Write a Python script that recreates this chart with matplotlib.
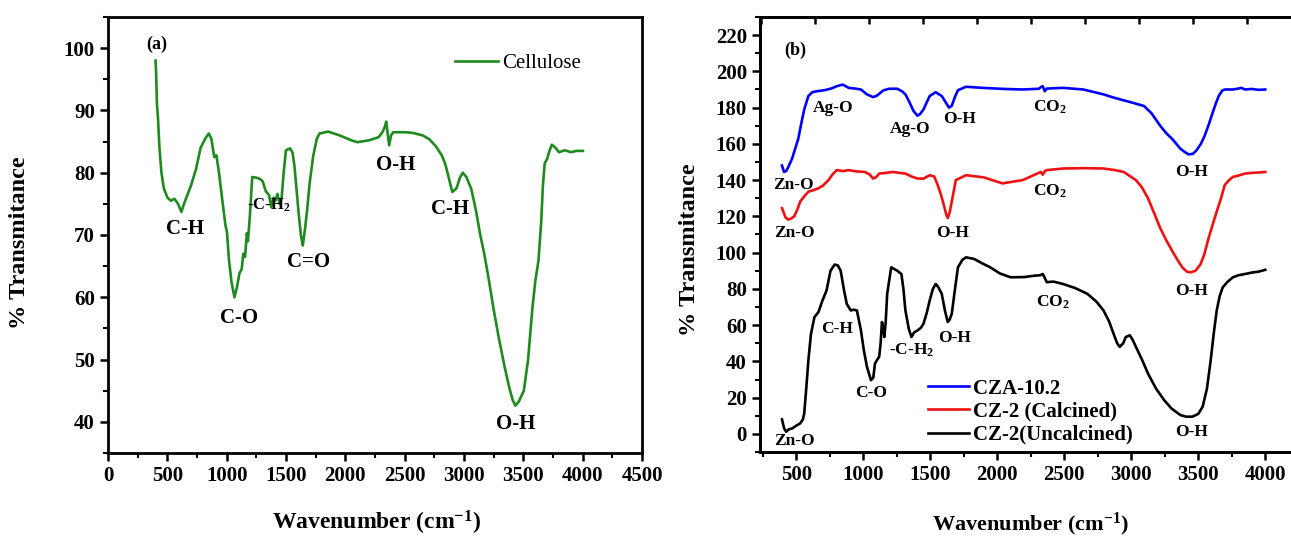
import numpy as np
import matplotlib
matplotlib.use("Agg")
import matplotlib.pyplot as plt
from matplotlib.ticker import MultipleLocator

plt.rcParams['font.family'] = ['Liberation Serif', 'DejaVu Serif']
plt.rcParams['font.weight'] = 'bold'
plt.rcParams['mathtext.fontset'] = 'custom'
plt.rcParams['mathtext.bf'] = 'Liberation Serif:bold'
plt.rcParams['mathtext.rm'] = 'Liberation Serif:bold'
plt.rcParams['mathtext.default'] = 'bf'

# (a) Cellulose
cell_wn = [400, 405, 412, 420, 433, 450, 470, 500, 530, 560, 590, 618, 640, 670, 700, 740, 780, 820, 849, 870,
           895, 913, 935, 960, 990, 1002, 1019, 1040, 1065, 1085, 1108, 1126, 1140, 1155, 1170, 1179, 1195, 1215,
           1250, 1280, 1303, 1330, 1357, 1375, 1395, 1410, 1428, 1445, 1463, 1480, 1499, 1534, 1555, 1570, 1590,
           1605, 1625, 1641, 1660, 1676, 1700, 1730, 1760, 1783, 1854, 1950, 2050, 2102, 2200, 2280, 2315, 2335,
           2344, 2355, 2369, 2385, 2404, 2500, 2564, 2650, 2706, 2760, 2812, 2840, 2866, 2901, 2937, 2965, 2990,
           3020, 3061, 3100, 3132, 3170, 3203, 3250, 3291, 3340, 3380, 3410, 3433, 3460, 3504, 3540, 3575, 3600,
           3628, 3650, 3665, 3680, 3700, 3720, 3740, 3771, 3800, 3850, 3900, 3950, 4002]
cell_t = [98, 96, 91, 89, 84, 80, 77.5, 76, 75.5, 75.8, 75, 73.7, 75, 76.5, 78, 80.5, 84, 85.5, 86.3, 85.5,
          82.5, 82.8, 80, 76, 71.5, 70.5, 66, 62.5, 60, 61.5, 63.9, 64.5, 67, 66.5, 70.3, 69, 73, 79.3,
          79.2, 79, 78.6, 77, 76.4, 74.5, 76, 75.5, 76.6, 75, 76, 80, 83.6, 83.9, 83.2, 81.2, 77,
          73.7, 70, 68.3, 71, 73.7, 78.5, 82.8, 85.5, 86.3, 86.6, 86.0, 85.2, 84.9, 85.2, 85.7, 86.6, 87.5,
          88.2, 86.5, 84.4, 86.0, 86.5, 86.5, 86.4, 86.0, 85.4, 84.3, 82.8, 81.5, 79.6, 76.9, 77.5, 79.2, 80.0,
          79.3, 77.4, 74, 70.5, 67, 63.5, 58, 53.7, 49, 45.6, 43.5, 42.6, 43.2, 45, 50, 58, 62.5,
          66, 72, 78, 81.5, 82.2, 83.5, 84.5, 84, 83.3, 83.6, 83.3, 83.5, 83.5]

# (b) CZA-10.2
cza_wn = [394, 409, 425, 440, 470, 515, 540, 560, 591, 620, 651, 711, 760, 802, 847, 892, 940, 983, 1028, 1073,
          1100, 1119, 1150, 1194, 1254, 1290, 1315, 1345, 1375, 1405, 1425, 1450, 1496, 1541, 1586, 1615, 1640,
          1661, 1685, 1707, 1767, 1888, 2050, 2190, 2310, 2330, 2340, 2355, 2370, 2400, 2491, 2642, 2793, 2870,
          2944, 3020, 3095, 3150, 3216, 3260, 3306, 3367, 3400, 3427, 3460, 3487, 3520, 3548, 3580, 3608, 3630,
          3653, 3680, 3700, 3759, 3800, 3819, 3850, 3900, 3950, 4000]
cza_t = [148, 144.5, 145, 147, 152, 162.7, 172, 179, 186.4, 188.5, 189, 189.6, 190.5, 191.8, 192.7, 190.9, 190.5,
         190, 187.3, 185.8, 186.5, 187.6, 189.5, 190.4, 190.4, 189, 187.3, 183, 178.2, 175.5, 176.5, 179, 186.4,
         188.5, 186.4, 183, 180, 181, 186, 189.6, 191.5, 190.9, 190.3, 190, 190.4, 191.5, 191.8, 189, 190.5,
         190.6, 190.9, 190, 187.3, 185.5, 184, 182.5, 180.9, 177, 170, 166, 162.7, 157.3, 155.5, 154.2, 154.5,
         156.4, 160, 164.5, 171, 177.3, 182, 186.4, 189.5, 190, 190, 190.5, 190.9, 190, 190.3, 189.8, 190]

# (b) CZ-2 calcined
cal_wn = [394, 420, 440, 462, 485, 510, 530, 560, 591, 630, 666, 700, 741, 770, 802, 850, 892, 950, 1013, 1050,
          1073, 1095, 1119, 1170, 1224, 1270, 1315, 1360, 1405, 1450, 1496, 1530, 1556, 1580, 1601, 1620, 1631,
          1645, 1661, 1691, 1767, 1900, 2039, 2190, 2325, 2340, 2355, 2370, 2491, 2650, 2793, 2880, 2944, 3035,
          3080, 3125, 3170, 3216, 3260, 3306, 3345, 3382, 3415, 3442, 3480, 3517, 3545, 3578, 3610, 3638, 3670,
          3698, 3730, 3759, 3800, 3849, 3900, 3950, 4000]
cal_t = [124.5, 119.5, 118.2, 118.8, 120, 124, 128.2, 131, 133.6, 134.5, 135.5, 137, 140, 143, 145.5, 145, 145.5,
         144.8, 144.5, 143, 140.9, 141.5, 143.6, 144, 144.5, 144, 143.6, 142, 140.9, 140.8, 142.7, 142, 137.3,
         132, 126.4, 121, 119.1, 122, 128.2, 140, 142.7, 141.5, 138.2, 140, 144.5, 143, 145, 145.5, 146.4,
         146.6, 146.4, 145.5, 144.5, 140, 136, 130, 122, 113.6, 107, 100.9, 96, 91.8, 89.5, 89.1, 90, 93.6, 99,
         108.2, 116, 122.7, 130, 137.3, 140, 141.8, 142.5, 143.6, 144, 144.2, 144.5]

# (b) CZ-2 uncalcined
unc_wn = [394, 410, 425, 445, 470, 500, 530, 550, 560, 575, 591, 610, 636, 666, 696, 726, 756, 787, 810, 832,
          855, 877, 907, 930, 953, 983, 1005, 1028, 1058, 1075, 1088, 1105, 1119, 1130, 1140, 1150, 1158, 1168,
          1179, 1209, 1254, 1285, 1300, 1315, 1340, 1360, 1380, 1405, 1430, 1450, 1475, 1496, 1520, 1541, 1560,
          1586, 1610, 1631, 1645, 1661, 1685, 1707, 1740, 1767, 1828, 1890, 1948, 2020, 2099, 2200, 2280, 2320,
          2340, 2355, 2370, 2420, 2491, 2580, 2672, 2740, 2793, 2835, 2868, 2895, 2914, 2940, 2959, 2989, 3010,
          3035, 3080, 3125, 3185, 3246, 3300, 3367, 3410, 3457, 3500, 3533, 3565, 3593, 3615, 3638, 3660, 3683,
          3720, 3759, 3800, 3849, 3900, 3950, 4000]
unc_t = [8, 3, 1.2, 2.5, 3, 4.5, 5.8, 8, 11.3, 25, 40.6, 55, 64.4, 67.2, 73.6, 79, 90, 93.4, 93, 90,
         80, 71.8, 68.1, 68.5, 68.1, 57.1, 46, 37, 29.6, 31, 38.8, 41, 42.5, 50, 61.7, 58, 53.4, 62,
         77.3, 91.9, 90, 88.2, 80, 68.1, 58, 53.4, 56, 57.1, 58.5, 60.8, 67, 73.6, 80, 82.7, 81,
         77.3, 68, 61.7, 63, 66.3, 80, 91.9, 96, 97.4, 96.5, 94, 91.9, 88.5, 86.4, 86.5, 87.3, 87.5,
         88.2, 86, 83.7, 84, 82.7, 80.5, 77.3, 73, 68.1, 62, 55.3, 50, 48, 50, 53.4, 54.4, 52,
         48, 41, 33.3, 25, 18.6, 14, 10.4, 9.5, 9.5, 11, 15, 25, 40.6, 55, 68.1, 76, 80.9,
         84, 86.4, 87.5, 88.2, 89, 89.5, 90.5]

# peak labels: (text, wavenumber, transmittance)
labels_a = [("C-H", 646, 71), ("C-O", 1108, 56.6), ("-C-H$_2$", 1357, 74.8), ("C=O", 1694, 65.7),
            ("O-H", 2422, 81.2), ("C-H", 2884, 74.2), ("O-H", 3433, 39.7)]
labels_b = [("Ag-O", 776, 180), ("Ag-O", 1351, 168.2), ("O-H", 1720, 173.5), ("CO$_2$", 2390, 180),
            ("O-H", 3451, 144.5), ("Zn-O", 478, 137.5), ("CO$_2$", 2390, 133.6), ("Zn-O", 485, 111),
            ("O-H", 1668, 111), ("O-H", 3451, 79), ("CO$_2$", 2416, 72.7), ("C-H", 802, 58),
            ("-C-H$_2$", 1365, 46), ("O-H", 1680, 53), ("C-O", 1058, 22.7), ("Zn-O", 485, -4),
            ("O-H", 3451, 1.2)]

fig = plt.figure(figsize=(12.91, 5.39), dpi=100)
ax1 = fig.add_axes([0.0837, 0.1596, 0.4136, 0.8089])
ax2 = fig.add_axes([0.5887, 0.1614, 0.4173, 0.8071])

# ---- panel (a)
ax1.plot(cell_wn, cell_t, color='#1f8a1f', lw=1.9, label='Cellulose')
ax1.set_xlim(0, 4500)
ax1.set_ylim(35, 105)
ax1.xaxis.set_major_locator(MultipleLocator(500))
ax1.xaxis.set_minor_locator(MultipleLocator(250))
ax1.yaxis.set_major_locator(MultipleLocator(10))
ax1.yaxis.set_minor_locator(MultipleLocator(5))
ax1.set_yticks(np.arange(40, 101, 10))
for t, x, y in labels_a:
    fs = 12 if 'H$_2$' in t else 15
    ax1.text(x, y, t, ha='center', va='center', fontsize=fs, fontweight='bold')
ax1.text(414, 100.6, '(a)', ha='center', va='center', fontsize=13, fontweight='bold')
leg1 = ax1.legend(loc='center left', bbox_to_anchor=(0.649, 0.893), frameon=False, borderpad=0,
                  borderaxespad=0, handlelength=2.1, handletextpad=0.2,
                  prop={'family': 'Liberation Serif', 'weight': 'normal', 'size': 15})

# ---- panel (b)
ax2.plot(cza_wn, cza_t, color='#0000ff', lw=1.9, label='CZA-10.2')
ax2.plot(cal_wn, cal_t, color='#ee1111', lw=1.9, label='CZ-2 (Calcined)')
ax2.plot(unc_wn, unc_t, color='black', lw=1.9, label='CZ-2(Uncalcined)')
ax2.set_xlim(230, 4250)
ax2.set_ylim(-10, 230)
ax2.xaxis.set_major_locator(MultipleLocator(500))
ax2.xaxis.set_minor_locator(MultipleLocator(250))
ax2.set_xticks(np.arange(500, 4001, 500))
ax2.yaxis.set_major_locator(MultipleLocator(20))
ax2.yaxis.set_minor_locator(MultipleLocator(10))
ax2.set_yticks(np.arange(0, 221, 20))
for t, x, y in labels_b:
    ax2.text(x, y, t, ha='center', va='center', fontsize=12.5, fontweight='bold')
ax2.text(493, 211.5, '(b)', ha='center', va='center', fontsize=13, fontweight='bold')
leg2 = ax2.legend(loc='center left', bbox_to_anchor=(0.311, 0.0925), frameon=False, borderpad=0,
                  borderaxespad=0, handlelength=2.0, handletextpad=0.2, labelspacing=0.15,
                  prop={'family': 'Liberation Serif', 'weight': 'bold', 'size': 15})

# top ticks of panel (b) sit on their own spacing
top = ax2.twiny()
top.set_xlim((230 - 1043) / 403, (4250 - 1043) / 403)
top.xaxis.set_major_locator(MultipleLocator(1))
top.tick_params(axis='x', direction='in', length=5, width=1.8, labeltop=False)

for ax in (ax1, ax2):
    for s in ax.spines.values():
        s.set_linewidth(2)
    ax.tick_params(which='major', direction='out', length=6, width=1.8, labelsize=15,
                   top=False, right=False)
    ax.tick_params(which='minor', direction='out', length=3.5, width=1.5, top=False, right=False)
    for lbl in ax.get_xticklabels() + ax.get_yticklabels():
        lbl.set_fontweight('bold')
    ax.set_ylabel('% Transmitance', fontsize=17.5, fontweight='bold')

for s in top.spines.values():
    s.set_linewidth(2)

ax1.set_xlabel('Wavenumber (cm$^{-1}$)', fontsize=17, fontweight='bold')
ax2.set_xlabel('Wavenumber (cm$^{-1}$)', fontsize=16, fontweight='bold')
ax1.xaxis.set_label_coords(0.503, -0.128)
ax1.yaxis.set_label_coords(-0.146, 0.482)
ax2.xaxis.set_label_coords(0.503, -0.135)
ax2.yaxis.set_label_coords(-0.111, 0.464)

fig.savefig('out.png', dpi=100)
